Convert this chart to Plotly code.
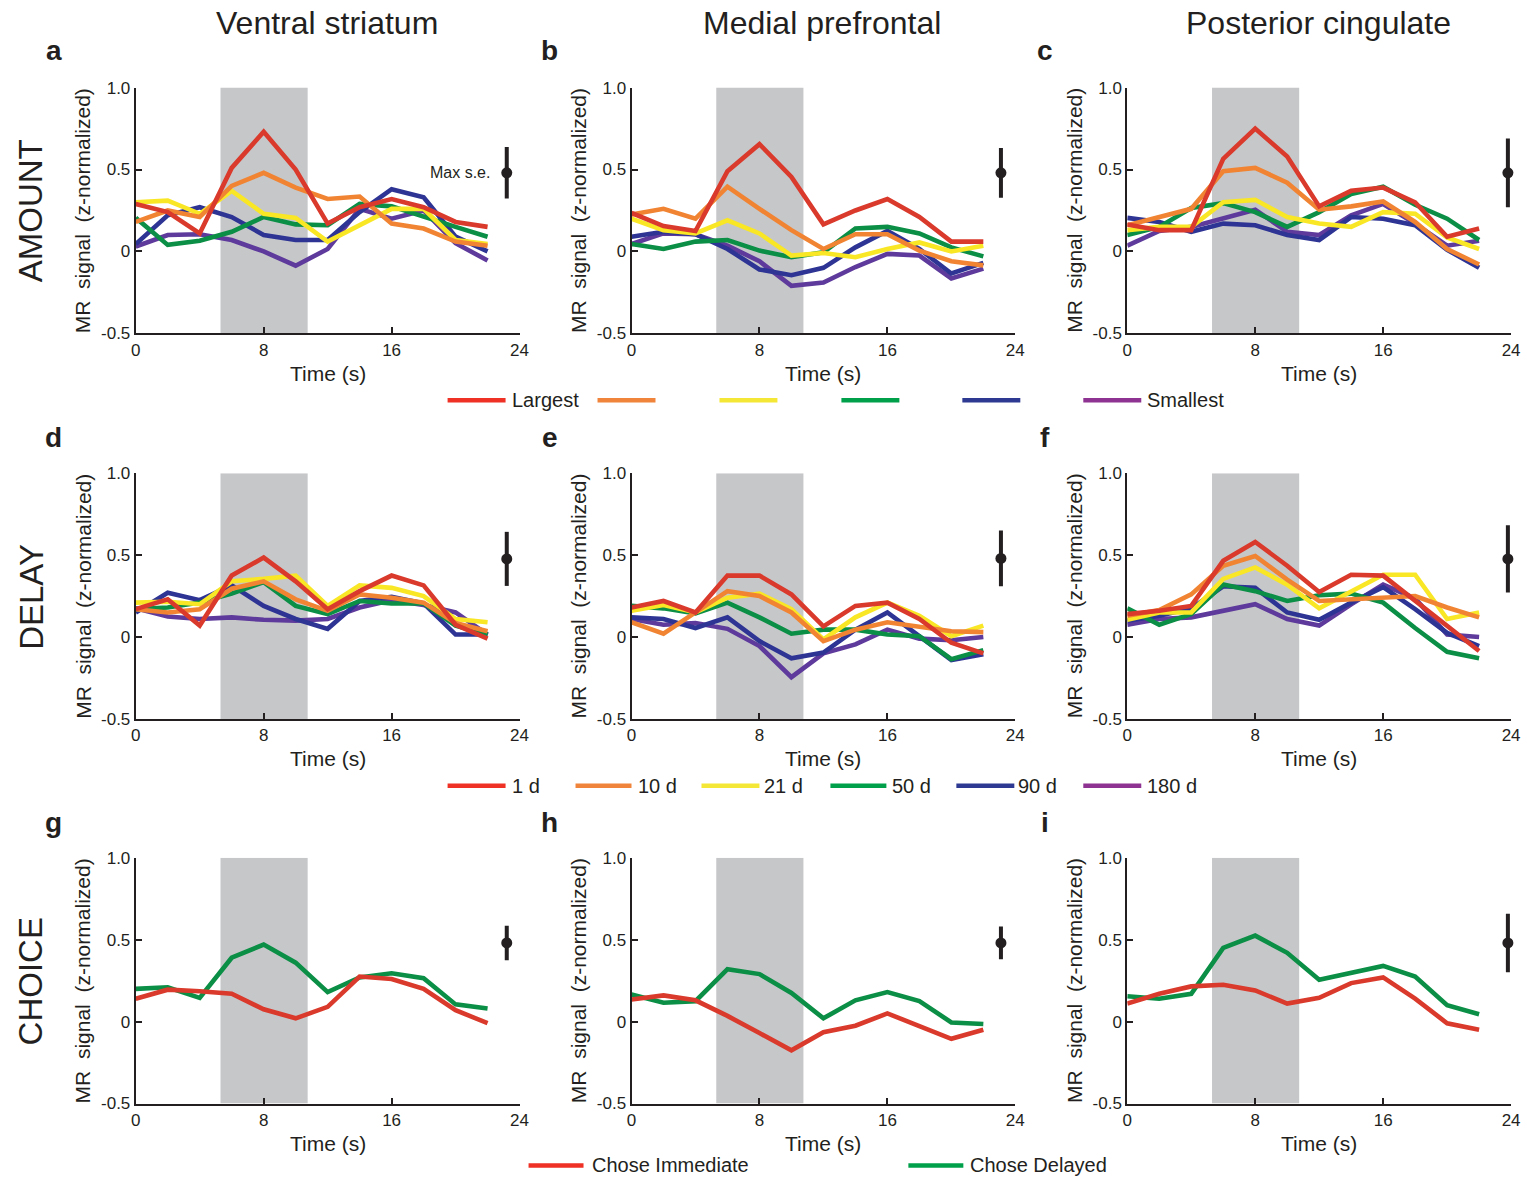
import plotly.graph_objects as go

W, H = 1527, 1183
FONT = "Liberation Sans, Arial, Helvetica, sans-serif"
INK = "#231f20"

# ---------------- data ----------------
time_s = [0, 2, 4, 6, 8, 10, 12, 14, 16, 18, 20, 22]
region_titles = ["Ventral striatum", "Medial prefrontal", "Posterior cingulate"]
row_titles = ["AMOUNT", "DELAY", "CHOICE"]
panel_letters = ["a", "b", "c", "d", "e", "f", "g", "h", "i"]

amount_labels = ["Largest", "", "", "", "", "Smallest"]
delay_labels = ["1 d", "10 d", "21 d", "50 d", "90 d", "180 d"]
choice_labels = ["Chose Immediate", "Chose Delayed"]

x_ticks = [0, 8, 16, 24]
x_ticklabels = ["0", "8", "16", "24"]
y_ticks = [-0.5, 0, 0.5, 1.0]
y_ticklabels = ["-0.5", "0", "0.5", "1.0"]

stim_window = [5.3, 10.75]  # grey shaded period (s)

# AMOUNT (largest -> smallest)
amount_vs = [
    [0.29, 0.24, 0.11, 0.51, 0.73, 0.50, 0.17, 0.27, 0.32, 0.27, 0.18, 0.15],
    [0.18, 0.25, 0.21, 0.40, 0.48, 0.39, 0.32, 0.335, 0.17, 0.14, 0.06, 0.035],
    [0.30, 0.31, 0.23, 0.37, 0.23, 0.205, 0.06, 0.16, 0.26, 0.26, 0.07, 0.045],
    [0.205, 0.04, 0.065, 0.12, 0.21, 0.165, 0.16, 0.29, 0.275, 0.21, 0.15, 0.09],
    [0.045, 0.22, 0.27, 0.21, 0.10, 0.07, 0.07, 0.24, 0.38, 0.33, 0.09, 0.0],
    [0.03, 0.10, 0.105, 0.07, 0.0, -0.087, 0.015, 0.26, 0.20, 0.25, 0.05, -0.055],
]
amount_mpfc = [
    [0.235, 0.155, 0.125, 0.49, 0.655, 0.455, 0.165, 0.25, 0.32, 0.21, 0.06, 0.06],
    [0.225, 0.26, 0.20, 0.395, 0.26, 0.13, 0.015, 0.105, 0.105, 0.005, -0.06, -0.085],
    [0.20, 0.13, 0.11, 0.19, 0.11, -0.025, -0.01, -0.035, 0.015, 0.055, 0.0, 0.035],
    [0.045, 0.015, 0.06, 0.07, 0.005, -0.035, -0.005, 0.14, 0.15, 0.11, 0.025, -0.03],
    [0.09, 0.12, 0.105, 0.015, -0.11, -0.145, -0.10, 0.025, 0.125, 0.015, -0.135, -0.07],
    [0.045, 0.11, 0.105, 0.035, -0.06, -0.21, -0.19, -0.095, -0.015, -0.025, -0.165, -0.105],
]
amount_pcc = [
    [0.165, 0.13, 0.13, 0.565, 0.75, 0.58, 0.275, 0.37, 0.39, 0.30, 0.09, 0.14],
    [0.16, 0.21, 0.26, 0.49, 0.51, 0.42, 0.255, 0.275, 0.305, 0.18, 0.015, -0.08],
    [0.13, 0.15, 0.15, 0.30, 0.315, 0.21, 0.17, 0.15, 0.24, 0.23, 0.085, 0.015],
    [0.10, 0.15, 0.265, 0.295, 0.24, 0.15, 0.24, 0.35, 0.395, 0.285, 0.20, 0.07],
    [0.205, 0.18, 0.12, 0.17, 0.16, 0.10, 0.07, 0.21, 0.20, 0.16, 0.01, -0.10],
    [0.035, 0.125, 0.15, 0.205, 0.255, 0.12, 0.10, 0.22, 0.29, 0.17, 0.035, 0.065],
]

# DELAY (1 d -> 180 d)
delay_vs = [
    [0.17, 0.23, 0.07, 0.375, 0.485, 0.34, 0.17, 0.28, 0.375, 0.315, 0.075, -0.01],
    [0.17, 0.15, 0.17, 0.295, 0.34, 0.23, 0.16, 0.26, 0.24, 0.21, 0.085, 0.035],
    [0.21, 0.215, 0.20, 0.34, 0.355, 0.375, 0.19, 0.315, 0.30, 0.25, 0.11, 0.09],
    [0.17, 0.18, 0.21, 0.265, 0.335, 0.19, 0.14, 0.22, 0.205, 0.205, 0.07, 0.015],
    [0.15, 0.27, 0.225, 0.315, 0.19, 0.11, 0.05, 0.22, 0.245, 0.205, 0.015, 0.015],
    [0.175, 0.125, 0.11, 0.12, 0.105, 0.10, 0.11, 0.18, 0.225, 0.195, 0.15, 0.015],
]
delay_mpfc = [
    [0.18, 0.22, 0.15, 0.375, 0.375, 0.26, 0.065, 0.19, 0.21, 0.11, -0.035, -0.10],
    [0.09, 0.02, 0.15, 0.28, 0.25, 0.15, -0.025, 0.045, 0.09, 0.065, 0.035, 0.03],
    [0.16, 0.195, 0.15, 0.24, 0.265, 0.17, -0.015, 0.12, 0.21, 0.13, 0.005, 0.07],
    [0.19, 0.175, 0.145, 0.21, 0.12, 0.02, 0.045, 0.045, 0.015, 0.005, -0.135, -0.08],
    [0.12, 0.11, 0.055, 0.12, -0.025, -0.13, -0.095, 0.045, 0.15, 0.005, -0.14, -0.105],
    [0.11, 0.075, 0.085, 0.05, -0.055, -0.245, -0.10, -0.045, 0.045, -0.01, -0.02, 0.0],
]
delay_pcc = [
    [0.14, 0.16, 0.19, 0.465, 0.58, 0.435, 0.275, 0.38, 0.375, 0.22, 0.065, -0.085],
    [0.13, 0.165, 0.26, 0.435, 0.495, 0.35, 0.22, 0.23, 0.24, 0.25, 0.18, 0.12],
    [0.105, 0.15, 0.15, 0.355, 0.425, 0.32, 0.175, 0.28, 0.38, 0.38, 0.11, 0.15],
    [0.175, 0.075, 0.14, 0.32, 0.28, 0.22, 0.255, 0.265, 0.21, 0.055, -0.09, -0.13],
    [0.10, 0.13, 0.175, 0.31, 0.30, 0.15, 0.105, 0.21, 0.305, 0.17, 0.025, -0.055],
    [0.075, 0.11, 0.12, 0.16, 0.20, 0.11, 0.07, 0.20, 0.32, 0.235, 0.015, 0.0],
]

# CHOICE (immediate, delayed)
choice_vs = [
    [0.14, 0.195, 0.185, 0.17, 0.075, 0.02, 0.09, 0.275, 0.26, 0.20, 0.07, -0.01],
    [0.20, 0.21, 0.145, 0.39, 0.47, 0.36, 0.18, 0.27, 0.295, 0.265, 0.105, 0.08],
]
choice_mpfc = [
    [0.135, 0.16, 0.13, 0.035, -0.07, -0.175, -0.065, -0.025, 0.05, -0.025, -0.105, -0.05],
    [0.165, 0.115, 0.125, 0.32, 0.29, 0.175, 0.02, 0.13, 0.18, 0.125, -0.005, -0.015],
]
choice_pcc = [
    [0.11, 0.17, 0.215, 0.225, 0.19, 0.11, 0.145, 0.235, 0.27, 0.14, -0.01, -0.05],
    [0.155, 0.14, 0.17, 0.45, 0.525, 0.42, 0.255, 0.30, 0.34, 0.275, 0.10, 0.045],
]

# Max s.e. bars (time position, centre, half-length) per panel a..i
se_time = [23.2, 23.1, 23.8, 23.2, 23.1, 23.8, 23.2, 23.1, 23.8]
se_center = [0.48, 0.48, 0.48, 0.477, 0.48, 0.477, 0.48, 0.48, 0.48]
se_half = [0.157, 0.152, 0.21, 0.165, 0.17, 0.205, 0.105, 0.10, 0.178]

# ---------------- styles ----------------
six_line_colors = ["#DA3A2B", "#F08433", "#F9E625", "#0B8E45", "#2D3494", "#5D3A9B"]
six_legend_colors = ["#EE3124", "#F0843A", "#F5E735", "#00A04B", "#2E3A92", "#8E3391"]
choice_line_colors = ["#DA3A2B", "#0B8E45"]
choice_legend_colors = ["#EE3124", "#00A04B"]

# map target picture pixels to paper fractions (calibrated against the photographed page)
SX, OX = 0.9913, 4.2
SY, OY = 0.985, 8.3

def px(x):
    return ((x - OX) / SX) / W

def py(y):
    return 1 - ((y - OY) / SY) / H

col_x = [(135, 519), (631, 1015), (1127, 1511)]
row_y = [(87, 333), (473, 719), (858, 1104)]

panels = [
    (amount_vs, six_line_colors), (amount_mpfc, six_line_colors), (amount_pcc, six_line_colors),
    (delay_vs, six_line_colors), (delay_mpfc, six_line_colors), (delay_pcc, six_line_colors),
    (choice_vs, choice_line_colors), (choice_mpfc, choice_line_colors), (choice_pcc, choice_line_colors),
]

fig = go.Figure()
layout = dict(
    width=W, height=H, autosize=False,
    margin=dict(l=0, r=0, t=0, b=0),
    paper_bgcolor="white", plot_bgcolor="rgba(0,0,0,0)",
    showlegend=False, font=dict(family=FONT, color=INK),
)
shapes = []
annotations = []

for k in range(9):
    r, c = divmod(k, 3)
    n = k + 1
    xs = "x" if n == 1 else f"x{n}"
    ys = "y" if n == 1 else f"y{n}"
    xkey = "xaxis" if n == 1 else f"xaxis{n}"
    ykey = "yaxis" if n == 1 else f"yaxis{n}"
    x0, x1 = col_x[c]
    y0, y1 = row_y[r]
    layout[xkey] = dict(
        domain=[px(x0), px(x1)], anchor=ys, range=[0, 24],
        tickmode="array", tickvals=x_ticks, ticktext=x_ticklabels,
        ticks="inside", ticklen=6, tickwidth=1.5, tickcolor=INK,
        showline=True, linecolor=INK, linewidth=2, showgrid=False, zeroline=False,
        tickfont=dict(size=17, color=INK, family=FONT), fixedrange=True,
    )
    layout[ykey] = dict(
        domain=[py(y1), py(y0)], anchor=xs, range=[-0.5, 1.0],
        tickmode="array", tickvals=y_ticks, ticktext=y_ticklabels,
        ticks="inside", ticklen=6, tickwidth=1.5, tickcolor=INK,
        showline=True, linecolor=INK, linewidth=2, showgrid=False, zeroline=False,
        tickfont=dict(size=17, color=INK, family=FONT), fixedrange=True,
    )
    # grey stimulus window
    shapes.append(dict(type="rect", xref=xs, yref=ys, x0=stim_window[0], x1=stim_window[1],
                       y0=-0.5, y1=1.0, fillcolor="#C6C7C9", line=dict(width=0), layer="below"))
    series, colors = panels[k]
    for s in reversed(range(len(series))):
        fig.add_trace(go.Scatter(
            x=time_s, y=series[s], mode="lines", xaxis=xs, yaxis=ys,
            line=dict(color=colors[s], width=4.6), hoverinfo="skip", cliponaxis=False,
        ))
    fig.add_trace(go.Scatter(
        x=[se_time[k]], y=[se_center[k]], mode="markers", xaxis=xs, yaxis=ys,
        marker=dict(size=11, color=INK),
        error_y=dict(type="data", array=[se_half[k]], visible=True, thickness=4, width=0, color=INK),
        cliponaxis=False, hoverinfo="skip",
    ))
    # panel letter
    annotations.append(dict(text=f"<b>{panel_letters[k]}</b>", xref="paper", yref="paper",
                            x=px(53 + 496 * c), y=py(50 + [0, 387, 773][r]),
                            xanchor="center", yanchor="middle", showarrow=False,
                            font=dict(size=28, family=FONT, color=INK)))
    # y title
    annotations.append(dict(text="MR\u00a0\u00a0signal\u00a0\u00a0(z-normalized)", xref="paper", yref="paper",
                            x=px(x0 - 53), y=py((y0 + y1) / 2), textangle=-90,
                            xanchor="center", yanchor="middle", showarrow=False,
                            font=dict(size=21, family=FONT, color=INK)))
    # x title
    annotations.append(dict(text="Time (s)", xref="paper", yref="paper",
                            x=px((x0 + x1) / 2), y=py(y1 + 40),
                            xanchor="center", yanchor="middle", showarrow=False,
                            font=dict(size=21, family=FONT, color=INK)))

# Max s.e. label
annotations.append(dict(text="Max s.e.", xref="x", yref="y", x=22.3, y=se_center[0],
                        xanchor="right", yanchor="middle", showarrow=False,
                        font=dict(size=16, family=FONT, color=INK)))

# column titles
for c, t in enumerate(region_titles):
    annotations.append(dict(text=t, xref="paper", yref="paper", x=px([326, 822, 1318][c]), y=py(22),
                            xanchor="center", yanchor="middle", showarrow=False,
                            font=dict(size=32, family=FONT, color=INK)))
# row titles
for r, t in enumerate(row_titles):
    annotations.append(dict(text=t, xref="paper", yref="paper", x=px(30), y=py([210, 597, 982][r]),
                            textangle=-90, xanchor="center", yanchor="middle", showarrow=False,
                            font=dict(size=33, family=FONT, color=INK)))

# legends
def legend_item(xa, xb, yy, color, label, xt):
    shapes.append(dict(type="line", xref="paper", yref="paper", x0=px(xa), x1=px(xb),
                       y0=py(yy), y1=py(yy), line=dict(color=color, width=4.5)))
    if label:
        annotations.append(dict(text=label, xref="paper", yref="paper", x=px(xt), y=py(yy),
                                xanchor="left", yanchor="middle", showarrow=False,
                                font=dict(size=20, family=FONT, color=INK)))

leg1 = [(447, 505, 509), (597, 655, 659), (719, 777, 781), (841, 899, 903), (962, 1020, 1024), (1083, 1141, 1145)]
for i, (a, b, t) in enumerate(leg1):
    legend_item(a, b, 400, six_legend_colors[i], amount_labels[i], t)
leg2 = [(447, 505, 509), (575, 631, 635), (701, 759, 762), (830, 886, 890), (956, 1014, 1016), (1083, 1141, 1145)]
for i, (a, b, t) in enumerate(leg2):
    legend_item(a, b, 786, six_legend_colors[i], delay_labels[i], t)
leg3 = [(528, 583, 589), (908, 963, 968)]
for i, (a, b, t) in enumerate(leg3):
    legend_item(a, b, 1166, choice_legend_colors[i], choice_labels[i], t)

layout["shapes"] = shapes
layout["annotations"] = annotations
fig.update_layout(**layout)
fig.write_html(
    "out.html",
    config={"displayModeBar": False},
    post_script="document.body.style.margin='0';document.body.style.overflow='hidden';"
                "document.documentElement.style.overflow='hidden';",
)
